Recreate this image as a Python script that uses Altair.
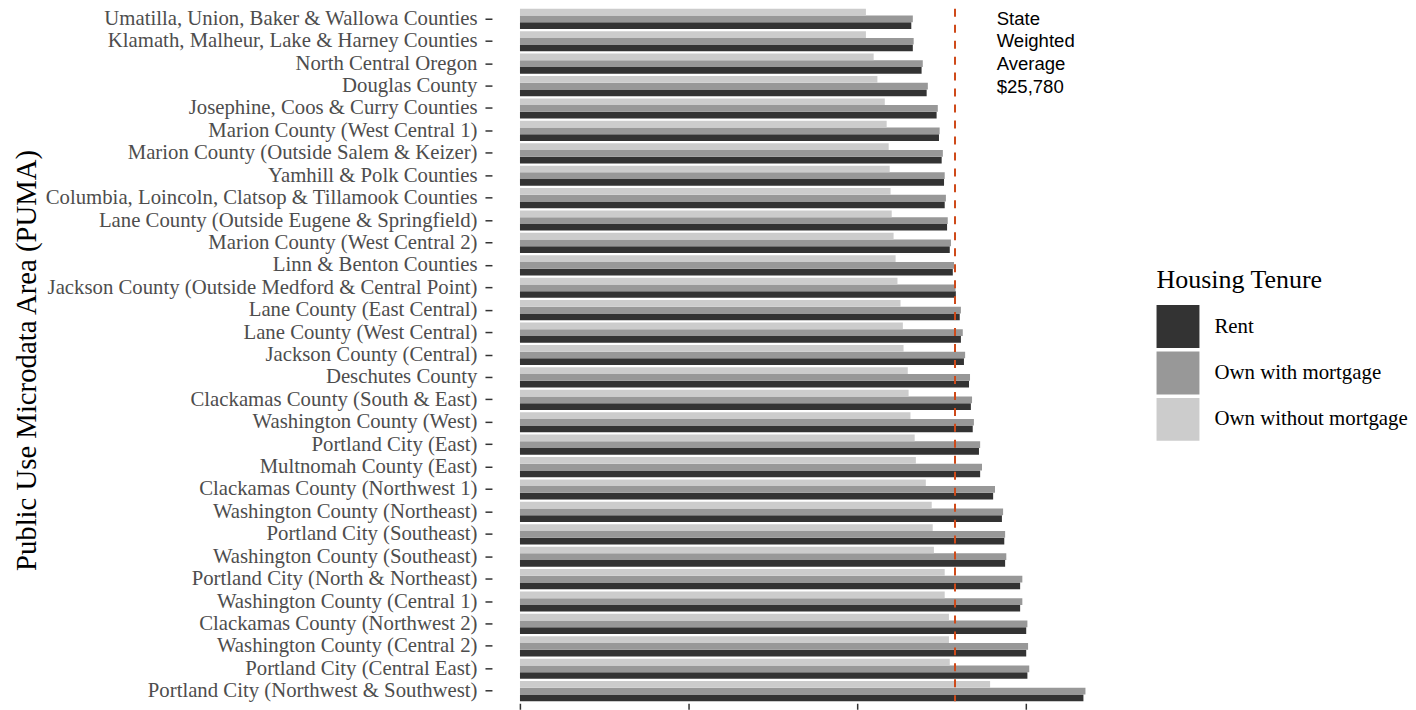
import altair as alt
import pandas as pd

pumas = [
    "Umatilla, Union, Baker & Wallowa Counties",
    "Klamath, Malheur, Lake & Harney Counties",
    "North Central Oregon",
    "Douglas County",
    "Josephine, Coos & Curry Counties",
    "Marion County (West Central 1)",
    "Marion County (Outside Salem & Keizer)",
    "Yamhill & Polk Counties",
    "Columbia, Loincoln, Clatsop & Tillamook Counties",
    "Lane County (Outside Eugene & Springfield)",
    "Marion County (West Central 2)",
    "Linn & Benton Counties",
    "Jackson County (Outside Medford & Central Point)",
    "Lane County (East Central)",
    "Lane County (West Central)",
    "Jackson County (Central)",
    "Deschutes County",
    "Clackamas County (South & East)",
    "Washington County (West)",
    "Portland City (East)",
    "Multnomah County (East)",
    "Clackamas County (Northwest 1)",
    "Washington County (Northeast)",
    "Portland City (Southeast)",
    "Washington County (Southeast)",
    "Portland City (North & Northeast)",
    "Washington County (Central 1)",
    "Clackamas County (Northwest 2)",
    "Washington County (Central 2)",
    "Portland City (Central East)",
    "Portland City (Northwest & Southwest)",
]

own_without_mortgage = [
    20500, 20500, 20960, 21180, 21620, 21730, 21850, 21910, 21960, 22030,
    22140, 22260, 22370, 22550, 22690, 22730, 22980, 23030, 23140, 23390,
    23460, 24050, 24400, 24460, 24530, 25170, 25170, 25420, 25420, 25470,
    27860,
]
own_with_mortgage = [
    23280, 23330, 23870, 24170, 24760, 24870, 25060, 25170, 25240, 25350,
    25540, 25720, 25810, 26130, 26240, 26380, 26670, 26790, 26900, 27270,
    27380, 28150, 28630, 28750, 28820, 29770, 29770, 30070, 30110, 30180,
    33510,
]
rent = [
    23190, 23280, 23800, 24100, 24690, 24830, 24990, 25130, 25170, 25310,
    25470, 25650, 25830, 26060, 26130, 26310, 26610, 26720, 26830, 27200,
    27270, 28040, 28560, 28700, 28750, 29640, 29640, 30000, 30000, 30070,
    33390,
]

tenures = ["Rent", "Own with mortgage", "Own without mortgage"]
tenure_colors = ["#333333", "#989898", "#cccccc"]
offset_order = ["Own without mortgage", "Own with mortgage", "Rent"]
state_average = 25780
annotation_x = 28250
annotation_lines = ["State", "Weighted", "Average", "$25,780"]
x_ticks = [0, 10000, 20000, 30000]

rows = []
for i, p in enumerate(pumas):
    rows.append({"puma": p, "tenure": "Rent", "value": rent[i]})
    rows.append({"puma": p, "tenure": "Own with mortgage", "value": own_with_mortgage[i]})
    rows.append({"puma": p, "tenure": "Own without mortgage", "value": own_without_mortgage[i]})
df = pd.DataFrame(rows)

serif = "Liberation Serif"
sans = "Liberation Sans"

x_scale = alt.Scale(domain=[-1660, 35180], nice=False, zero=False)
y_enc = alt.Y(
    "puma:N",
    sort=pumas,
    scale=alt.Scale(paddingInner=0.1, paddingOuter=0),
    axis=alt.Axis(
        title="Public Use Microdata Area (PUMA)",
        titleFont=serif,
        titleFontSize=28.8,
        titleFontWeight="normal",
        titleColor="black",
        titleX=-451,
        titleY=352,
        labelFont=serif,
        labelFontSize=20.8,
        labelColor="#4d4d4d",
        labelPadding=8,
        labelLimit=600,
        tickSize=7,
        tickColor="#333333",
        tickWidth=1.5,
        domain=False,
        grid=False,
    ),
)

bars = alt.Chart(df).mark_bar().encode(
    x=alt.X(
        "value:Q",
        scale=x_scale,
        axis=alt.Axis(
            values=x_ticks,
            labels=False,
            title=None,
            domain=False,
            grid=False,
            tickSize=6,
            tickColor="#333333",
            tickWidth=1.5,
            offset=2,
        ),
    ),
    y=y_enc,
    yOffset=alt.YOffset("tenure:N", sort=offset_order),
    color=alt.Color(
        "tenure:N",
        scale=alt.Scale(domain=tenures, range=tenure_colors),
        legend=alt.Legend(
            title="Housing Tenure",
            orient="none",
            legendX=666,
            legendY=259,
            padding=0,
            symbolType="square",
            symbolSize=1849,
            symbolStrokeWidth=0,
            symbolOpacity=1,
            labelFont=serif,
            labelFontSize=20.9,
            labelColor="black",
            labelOffset=15,
            labelLimit=400,
            titleFont=serif,
            titleFontSize=26,
            titleFontWeight="normal",
            titleColor="black",
            titlePadding=12,
            titleLimit=400,
            rowPadding=3.5,
        ),
    ),
)

rule = alt.Chart(pd.DataFrame({"avg": [state_average]})).mark_rule(
    color="#cf4a1a", strokeDash=[8, 8], strokeWidth=2
).encode(x=alt.X("avg:Q", scale=x_scale))

label = alt.Chart(
    pd.DataFrame({"ax": [annotation_x], "puma": [pumas[0]]})
).mark_text(
    text=annotation_lines,
    align="left",
    baseline="alphabetic",
    dy=6,
    font=sans,
    fontSize=18.6,
    lineHeight=22.7,
    color="black",
).encode(
    x=alt.X("ax:Q", scale=x_scale),
    y=alt.Y("puma:N", sort=pumas),
)

chart = (
    alt.layer(bars, rule, label)
    .properties(
        width=623,
        height=694,
        autosize=alt.AutoSizeParams(type="none"),
        padding={"left": 485, "top": 0, "right": 295, "bottom": 8},
        background="white",
    )
    .configure_view(stroke=None)
)

chart.save("out.html", embed_options={"renderer": "svg", "actions": False})
